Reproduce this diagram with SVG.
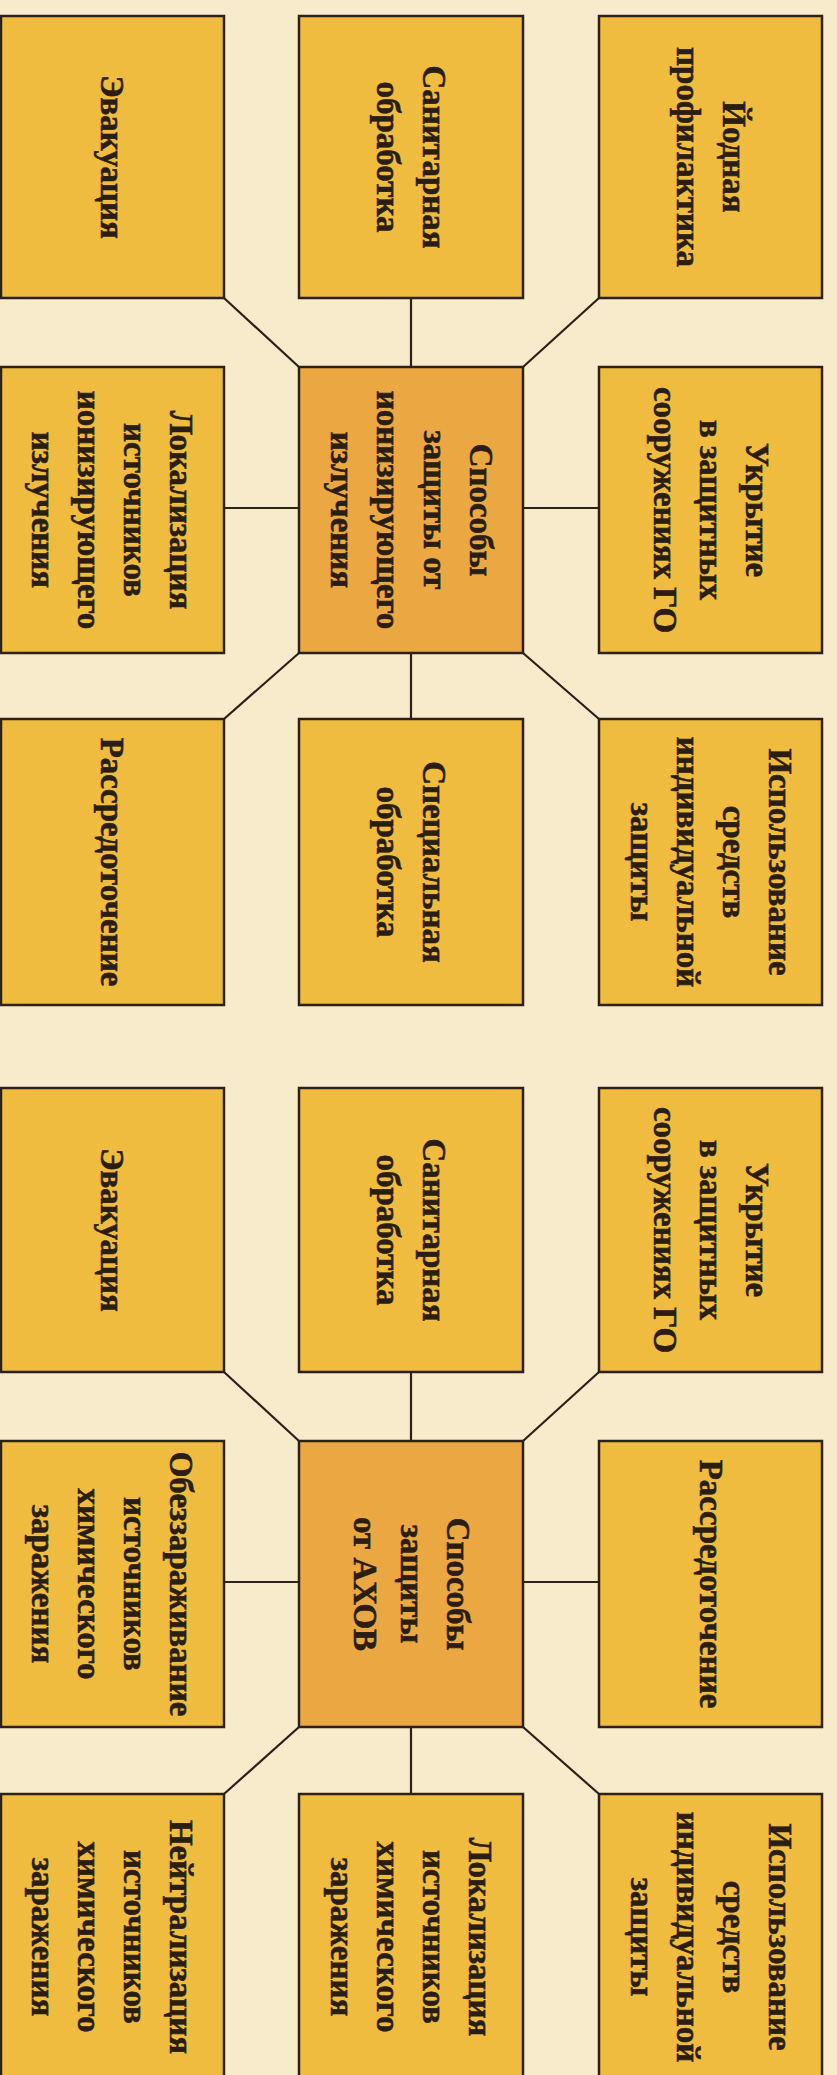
<svg xmlns="http://www.w3.org/2000/svg" width="837" height="2075" viewBox="0 0 837 2075">
<style>
.bg{fill:#F8EBCB}
.box{fill:#EFBC40;stroke:#2B2118;stroke-width:2.5}
.ctr{fill:#EBA742;stroke:#2B2118;stroke-width:2.5}
.t{font-family:"Liberation Serif","Times New Roman",serif;font-weight:bold;font-size:33px;fill:#2A1D12;stroke:#2A1D12;stroke-width:0.6;text-anchor:middle}
.c line{stroke:#2B2118;stroke-width:2.2}
</style>
<rect class="bg" x="0" y="0" width="837" height="2075"/>
<g id="connectors" class="c">
<line x1="411" y1="298" x2="411" y2="367"/>
<line x1="224" y1="298" x2="299" y2="367"/>
<line x1="599" y1="298" x2="523" y2="367"/>
<line x1="224" y1="508" x2="299" y2="508"/>
<line x1="523" y1="508" x2="599" y2="508"/>
<line x1="411" y1="653" x2="411" y2="719"/>
<line x1="299" y1="653" x2="224" y2="719"/>
<line x1="523" y1="653" x2="599" y2="719"/>
<line x1="411" y1="1372" x2="411" y2="1441"/>
<line x1="224" y1="1372" x2="299" y2="1441"/>
<line x1="599" y1="1372" x2="523" y2="1441"/>
<line x1="224" y1="1582" x2="299" y2="1582"/>
<line x1="523" y1="1582" x2="599" y2="1582"/>
<line x1="411" y1="1727" x2="411" y2="1794"/>
<line x1="299" y1="1727" x2="224" y2="1794"/>
<line x1="523" y1="1727" x2="599" y2="1794"/>
</g>
<g id="n1-evac"><rect class="box" x="1" y="16" width="223" height="282"/><text class="t" transform="translate(112,157) rotate(90)"><tspan x="0" y="11">Эвакуация</tspan></text></g>
<g id="n1-san"><rect class="box" x="299" y="16" width="224" height="282"/><text class="t" transform="translate(411,157) rotate(90)"><tspan x="0" y="-12">Санитарная</tspan><tspan x="0" y="34">обработка</tspan></text></g>
<g id="n1-iod"><rect class="box" x="599" y="16" width="223" height="282"/><text class="t" transform="translate(710.5,157) rotate(90)"><tspan x="0" y="-12">Йодная</tspan><tspan x="0" y="34">профилактика</tspan></text></g>
<g id="n1-lok"><rect class="box" x="1" y="367" width="223" height="286"/><text class="t" transform="translate(112,510) rotate(90)"><tspan x="0" y="-58">Локализация</tspan><tspan x="0" y="-12">источников</tspan><tspan x="0" y="34">ионизирующего</tspan><tspan x="0" y="80">излучения</tspan></text></g>
<g id="n1-center"><rect class="ctr" x="299" y="367" width="224" height="286"/><text class="t" transform="translate(411,510) rotate(90)"><tspan x="0" y="-59">Способы</tspan><tspan x="0" y="-13">защиты от</tspan><tspan x="0" y="34">ионизирующего</tspan><tspan x="0" y="80">излучения</tspan></text></g>
<g id="n1-ukr"><rect class="box" x="599" y="367" width="223" height="286"/><text class="t" transform="translate(710.5,510) rotate(90)"><tspan x="0" y="-35">Укрытие</tspan><tspan x="0" y="11">в защитных</tspan><tspan x="0" y="57">сооружениях ГО</tspan></text></g>
<g id="n1-rass"><rect class="box" x="1" y="719" width="223" height="286"/><text class="t" transform="translate(112,862) rotate(90)"><tspan x="0" y="11">Рассредоточение</tspan></text></g>
<g id="n1-spec"><rect class="box" x="299" y="719" width="224" height="286"/><text class="t" transform="translate(411,862) rotate(90)"><tspan x="0" y="-12">Специальная</tspan><tspan x="0" y="34">обработка</tspan></text></g>
<g id="n1-siz"><rect class="box" x="599" y="719" width="223" height="286"/><text class="t" transform="translate(710.5,862) rotate(90)"><tspan x="0" y="-58">Использование</tspan><tspan x="0" y="-12">средств</tspan><tspan x="0" y="34">индивидуальной</tspan><tspan x="0" y="80">защиты</tspan></text></g>
<g id="n2-evac"><rect class="box" x="1" y="1088" width="223" height="284"/><text class="t" transform="translate(112,1230) rotate(90)"><tspan x="0" y="11">Эвакуация</tspan></text></g>
<g id="n2-san"><rect class="box" x="299" y="1088" width="224" height="284"/><text class="t" transform="translate(411,1230) rotate(90)"><tspan x="0" y="-12">Санитарная</tspan><tspan x="0" y="34">обработка</tspan></text></g>
<g id="n2-ukr"><rect class="box" x="599" y="1088" width="223" height="284"/><text class="t" transform="translate(710.5,1230) rotate(90)"><tspan x="0" y="-35">Укрытие</tspan><tspan x="0" y="11">в защитных</tspan><tspan x="0" y="57">сооружениях ГО</tspan></text></g>
<g id="n2-obez"><rect class="box" x="1" y="1441" width="223" height="286"/><text class="t" transform="translate(112,1584) rotate(90)"><tspan x="0" y="-58">Обеззараживание</tspan><tspan x="0" y="-12">источников</tspan><tspan x="0" y="34">химического</tspan><tspan x="0" y="80">заражения</tspan></text></g>
<g id="n2-center"><rect class="ctr" x="299" y="1441" width="224" height="286"/><text class="t" transform="translate(411,1584) rotate(90)"><tspan x="0" y="-36">Способы</tspan><tspan x="0" y="10">защиты</tspan><tspan x="0" y="57">от АХОВ</tspan></text></g>
<g id="n2-rass"><rect class="box" x="599" y="1441" width="223" height="286"/><text class="t" transform="translate(710.5,1584) rotate(90)"><tspan x="0" y="11">Рассредоточение</tspan></text></g>
<g id="n2-neit"><rect class="box" x="1" y="1794" width="223" height="300"/><text class="t" transform="translate(112,1937) rotate(90)"><tspan x="0" y="-58">Нейтрализация</tspan><tspan x="0" y="-12">источников</tspan><tspan x="0" y="34">химического</tspan><tspan x="0" y="80">заражения</tspan></text></g>
<g id="n2-lok"><rect class="box" x="299" y="1794" width="224" height="300"/><text class="t" transform="translate(411,1937) rotate(90)"><tspan x="0" y="-58">Локализация</tspan><tspan x="0" y="-12">источников</tspan><tspan x="0" y="34">химического</tspan><tspan x="0" y="80">заражения</tspan></text></g>
<g id="n2-siz"><rect class="box" x="599" y="1794" width="223" height="300"/><text class="t" transform="translate(710.5,1937) rotate(90)"><tspan x="0" y="-58">Использование</tspan><tspan x="0" y="-12">средств</tspan><tspan x="0" y="34">индивидуальной</tspan><tspan x="0" y="80">защиты</tspan></text></g>
</svg>
